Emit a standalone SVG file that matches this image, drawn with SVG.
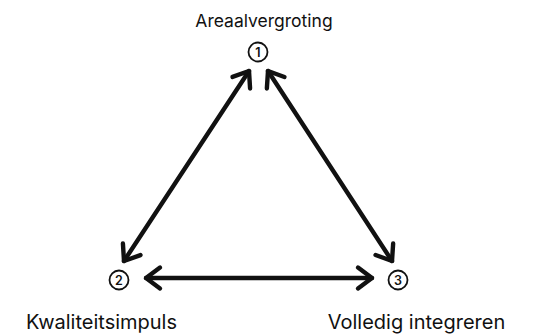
<svg xmlns="http://www.w3.org/2000/svg" width="533" height="335" viewBox="0 0 533 335">
<defs>
<style>
.lbl{font-family:Inter,"Liberation Sans",sans-serif;fill:#111;text-anchor:middle}
.top{font-size:17.5px}
.bot{font-size:20px}
.num{font-family:Inter,"Liberation Sans",sans-serif;font-size:12.5px;font-weight:600;fill:#111;text-anchor:middle}
.ring{fill:#fff;stroke:#111;stroke-width:1.8}
.edge{fill:none;stroke:#111;stroke-width:4.4;stroke-linecap:round;stroke-linejoin:round}
</style>
<marker id="ah" viewBox="-20 -15 30 30" markerWidth="30" markerHeight="30" markerUnits="userSpaceOnUse" orient="auto-start-reverse" refX="0" refY="0">
<path d="M-14,-10.5 L0,0 L-14,10.5" fill="none" stroke="#111" stroke-width="4.4" stroke-linecap="round" stroke-linejoin="round"/>
</marker>
</defs>
<rect width="533" height="335" fill="#fff"/>
<g id="connectors">
<path class="edge" d="M249,71 L124,261" marker-start="url(#ah)" marker-end="url(#ah)"/>
<path class="edge" d="M268,71 L392,261" marker-start="url(#ah)" marker-end="url(#ah)"/>
<path class="edge" d="M146,278 L372,278" marker-start="url(#ah)" marker-end="url(#ah)"/>
</g>
<g id="node1">
<circle class="ring" cx="258" cy="52" r="9.5"/>
<text class="num" x="258" y="56.5">1</text>
<text class="lbl top" x="264" y="26.5">Areaalvergroting</text>
</g>
<g id="node2">
<circle class="ring" cx="119" cy="280" r="9.5"/>
<text class="num" x="119" y="284.5">2</text>
<text class="lbl bot" x="101.5" y="328.5">Kwaliteitsimpuls</text>
</g>
<g id="node3">
<circle class="ring" cx="398" cy="280" r="9.5"/>
<text class="num" x="398" y="284.5">3</text>
<text class="lbl bot" x="416.5" y="328.5">Volledig integreren</text>
</g>
</svg>
